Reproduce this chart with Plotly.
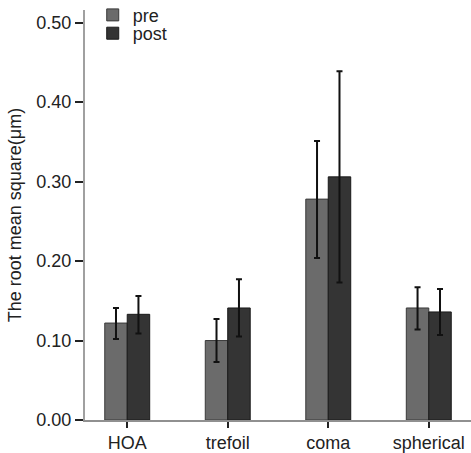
import plotly.graph_objects as go

categories = ["HOA", "trefoil", "coma", "spherical"]
pre_mean = [0.122, 0.100, 0.278, 0.141]
pre_upper = [0.141, 0.127, 0.351, 0.167]
pre_lower = [0.102, 0.073, 0.204, 0.114]
post_mean = [0.133, 0.141, 0.306, 0.136]
post_upper = [0.156, 0.177, 0.439, 0.165]
post_lower = [0.109, 0.105, 0.173, 0.107]
y_ticks = [0.0, 0.1, 0.2, 0.3, 0.4, 0.5]

def err(mean, up, lo):
    return dict(type="data", symmetric=False,
                array=[u - m for u, m in zip(up, mean)],
                arrayminus=[m - l for m, l in zip(mean, lo)],
                color="#111111", thickness=2, width=3)

fig = go.Figure()
fig.add_trace(go.Bar(name="pre", x=categories, y=pre_mean, legend="legend",
                     marker=dict(color="#6b6b6b", line=dict(color="#3a3a3a", width=1)),
                     error_y=err(pre_mean, pre_upper, pre_lower)))
fig.add_trace(go.Bar(name="post", x=categories, y=post_mean, legend="legend2",
                     marker=dict(color="#343434", line=dict(color="#1a1a1a", width=1)),
                     error_y=err(post_mean, post_upper, post_lower)))

font = "Liberation Sans, Arial, sans-serif"
leg = dict(x=0.02, xanchor="left", yanchor="top",
           bgcolor="rgba(0,0,0,0)", font=dict(size=18), itemwidth=30)
fig.update_layout(
    width=471, height=453,
    margin=dict(l=85, r=0, t=10, b=33, autoexpand=False),
    paper_bgcolor="white", plot_bgcolor="white",
    barmode="group", bargap=0.553, bargroupgap=0,
    font=dict(family=font, size=18, color="#222222"),
    showlegend=True,
    legend=dict(leg, y=1.0325),
    legend2=dict(leg, y=0.9878),
    xaxis=dict(range=[-0.42, 3.42], showline=True, linecolor="#909090", linewidth=1.5,
               ticks="outside", ticklen=6, tickcolor="#222222", tickwidth=1.5,
               showgrid=False, zeroline=False, tickfont=dict(size=18)),
    yaxis=dict(range=[0, 0.516], tickvals=y_ticks,
               ticktext=[f"{v:.2f}" for v in y_ticks],
               showline=True, linecolor="#a0a0a0", linewidth=2,
               ticks="outside", ticklen=8, tickcolor="#222222", tickwidth=1.5,
               showgrid=False, zeroline=False, tickfont=dict(size=18),
               title=dict(text="The root mean square(μm)", font=dict(size=18), standoff=10)),
)
fig.write_html("out.html", config={"displayModeBar": False},
               post_script="document.body.style.margin='0';document.body.style.overflow='hidden';")
